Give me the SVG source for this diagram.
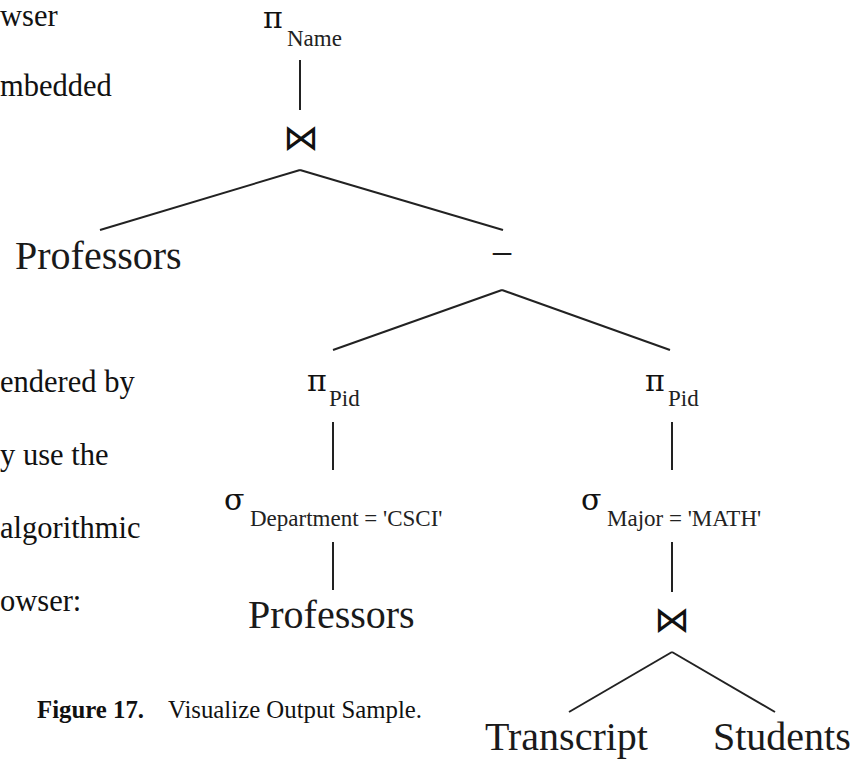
<svg xmlns="http://www.w3.org/2000/svg" width="852" height="759" viewBox="0 0 852 759" font-family="'Liberation Serif', 'Times New Roman', serif">
  <style>
    text { font-family: 'Liberation Serif', 'Times New Roman', serif; fill: #111; }
    .body { font-size: 30.5px; }
    .cap { font-size: 24.8px; }
    .capb { font-weight: bold; }
    text.op { font-family: 'DejaVu Serif', 'Liberation Serif', serif; font-size: 30px; }
    .sub { font-size: 23px; fill: #222; }
    .rel { font-size: 40px; fill: #1a1a1a; }
    text.join { font-family: 'DejaVu Sans', sans-serif; font-size: 36px; text-anchor: middle; }
    .edge { stroke: #222; stroke-width: 2; fill: none; }
  </style>

  <rect width="852" height="759" fill="#fff"/>

  <!-- surrounding body text, clipped by the figure -->
  <g id="body-text">
    <text class="body" x="0" y="26">wser</text>
    <text class="body" x="0" y="96">mbedded</text>
    <text class="body" x="0" y="392">endered by</text>
    <text class="body" x="0" y="465">y use the</text>
    <text class="body" x="0" y="538">algorithmic</text>
    <text class="body" x="0" y="611">owser:</text>
  </g>

  <g id="caption">
    <text class="cap" y="718"><tspan class="capb" x="37">Figure 17.</tspan><tspan x="168">Visualize Output Sample.</tspan></text>
  </g>

  <!-- tree edges -->
  <g id="connectors">
    <line class="edge" x1="300" y1="60" x2="300" y2="110"/>
    <line class="edge" x1="300" y1="170" x2="100" y2="230"/>
    <line class="edge" x1="300" y1="170" x2="503" y2="230"/>
    <line class="edge" x1="502" y1="290" x2="333" y2="350"/>
    <line class="edge" x1="502" y1="290" x2="670" y2="350"/>
    <line class="edge" x1="333" y1="422" x2="333" y2="470"/>
    <line class="edge" x1="672" y1="422" x2="672" y2="470"/>
    <line class="edge" x1="333" y1="542" x2="333" y2="590"/>
    <line class="edge" x1="672" y1="542" x2="672" y2="592"/>
    <line class="edge" x1="672" y1="652" x2="569" y2="712"/>
    <line class="edge" x1="672" y1="652" x2="775" y2="712"/>
  </g>

  <!-- tree nodes: labels are centred on their node's x -->
  <g id="proj-name">
    <text class="op" x="263" y="28">π</text>
    <text class="sub" x="287" y="46">Name</text>
  </g>
  <g id="join-top">
    <text class="join" x="301" y="150">⋈</text>
  </g>
  <g id="professors-left">
    <text class="rel" x="15" y="269">Professors</text>
  </g>
  <g id="difference">
    <text class="rel" x="502" y="267" text-anchor="middle">−</text>
  </g>
  <g id="proj-pid-left">
    <text class="op" x="307" y="391">π</text>
    <text class="sub" x="329" y="406">Pid</text>
  </g>
  <g id="proj-pid-right">
    <text class="op" x="645" y="391">π</text>
    <text class="sub" x="668" y="406">Pid</text>
  </g>
  <g id="select-dept">
    <text class="op" x="224" y="510">σ</text>
    <text class="sub" x="250" y="526">Department = 'CSCI'</text>
  </g>
  <g id="select-major">
    <text class="op" x="581" y="510">σ</text>
    <text class="sub" x="607" y="526">Major = 'MATH'</text>
  </g>
  <g id="professors-bottom">
    <text class="rel" x="248" y="628">Professors</text>
  </g>
  <g id="join-bottom">
    <text class="join" x="672" y="632">⋈</text>
  </g>
  <g id="transcript">
    <text class="rel" x="485" y="750">Transcript</text>
  </g>
  <g id="students">
    <text class="rel" x="713" y="750">Students</text>
  </g>
</svg>
